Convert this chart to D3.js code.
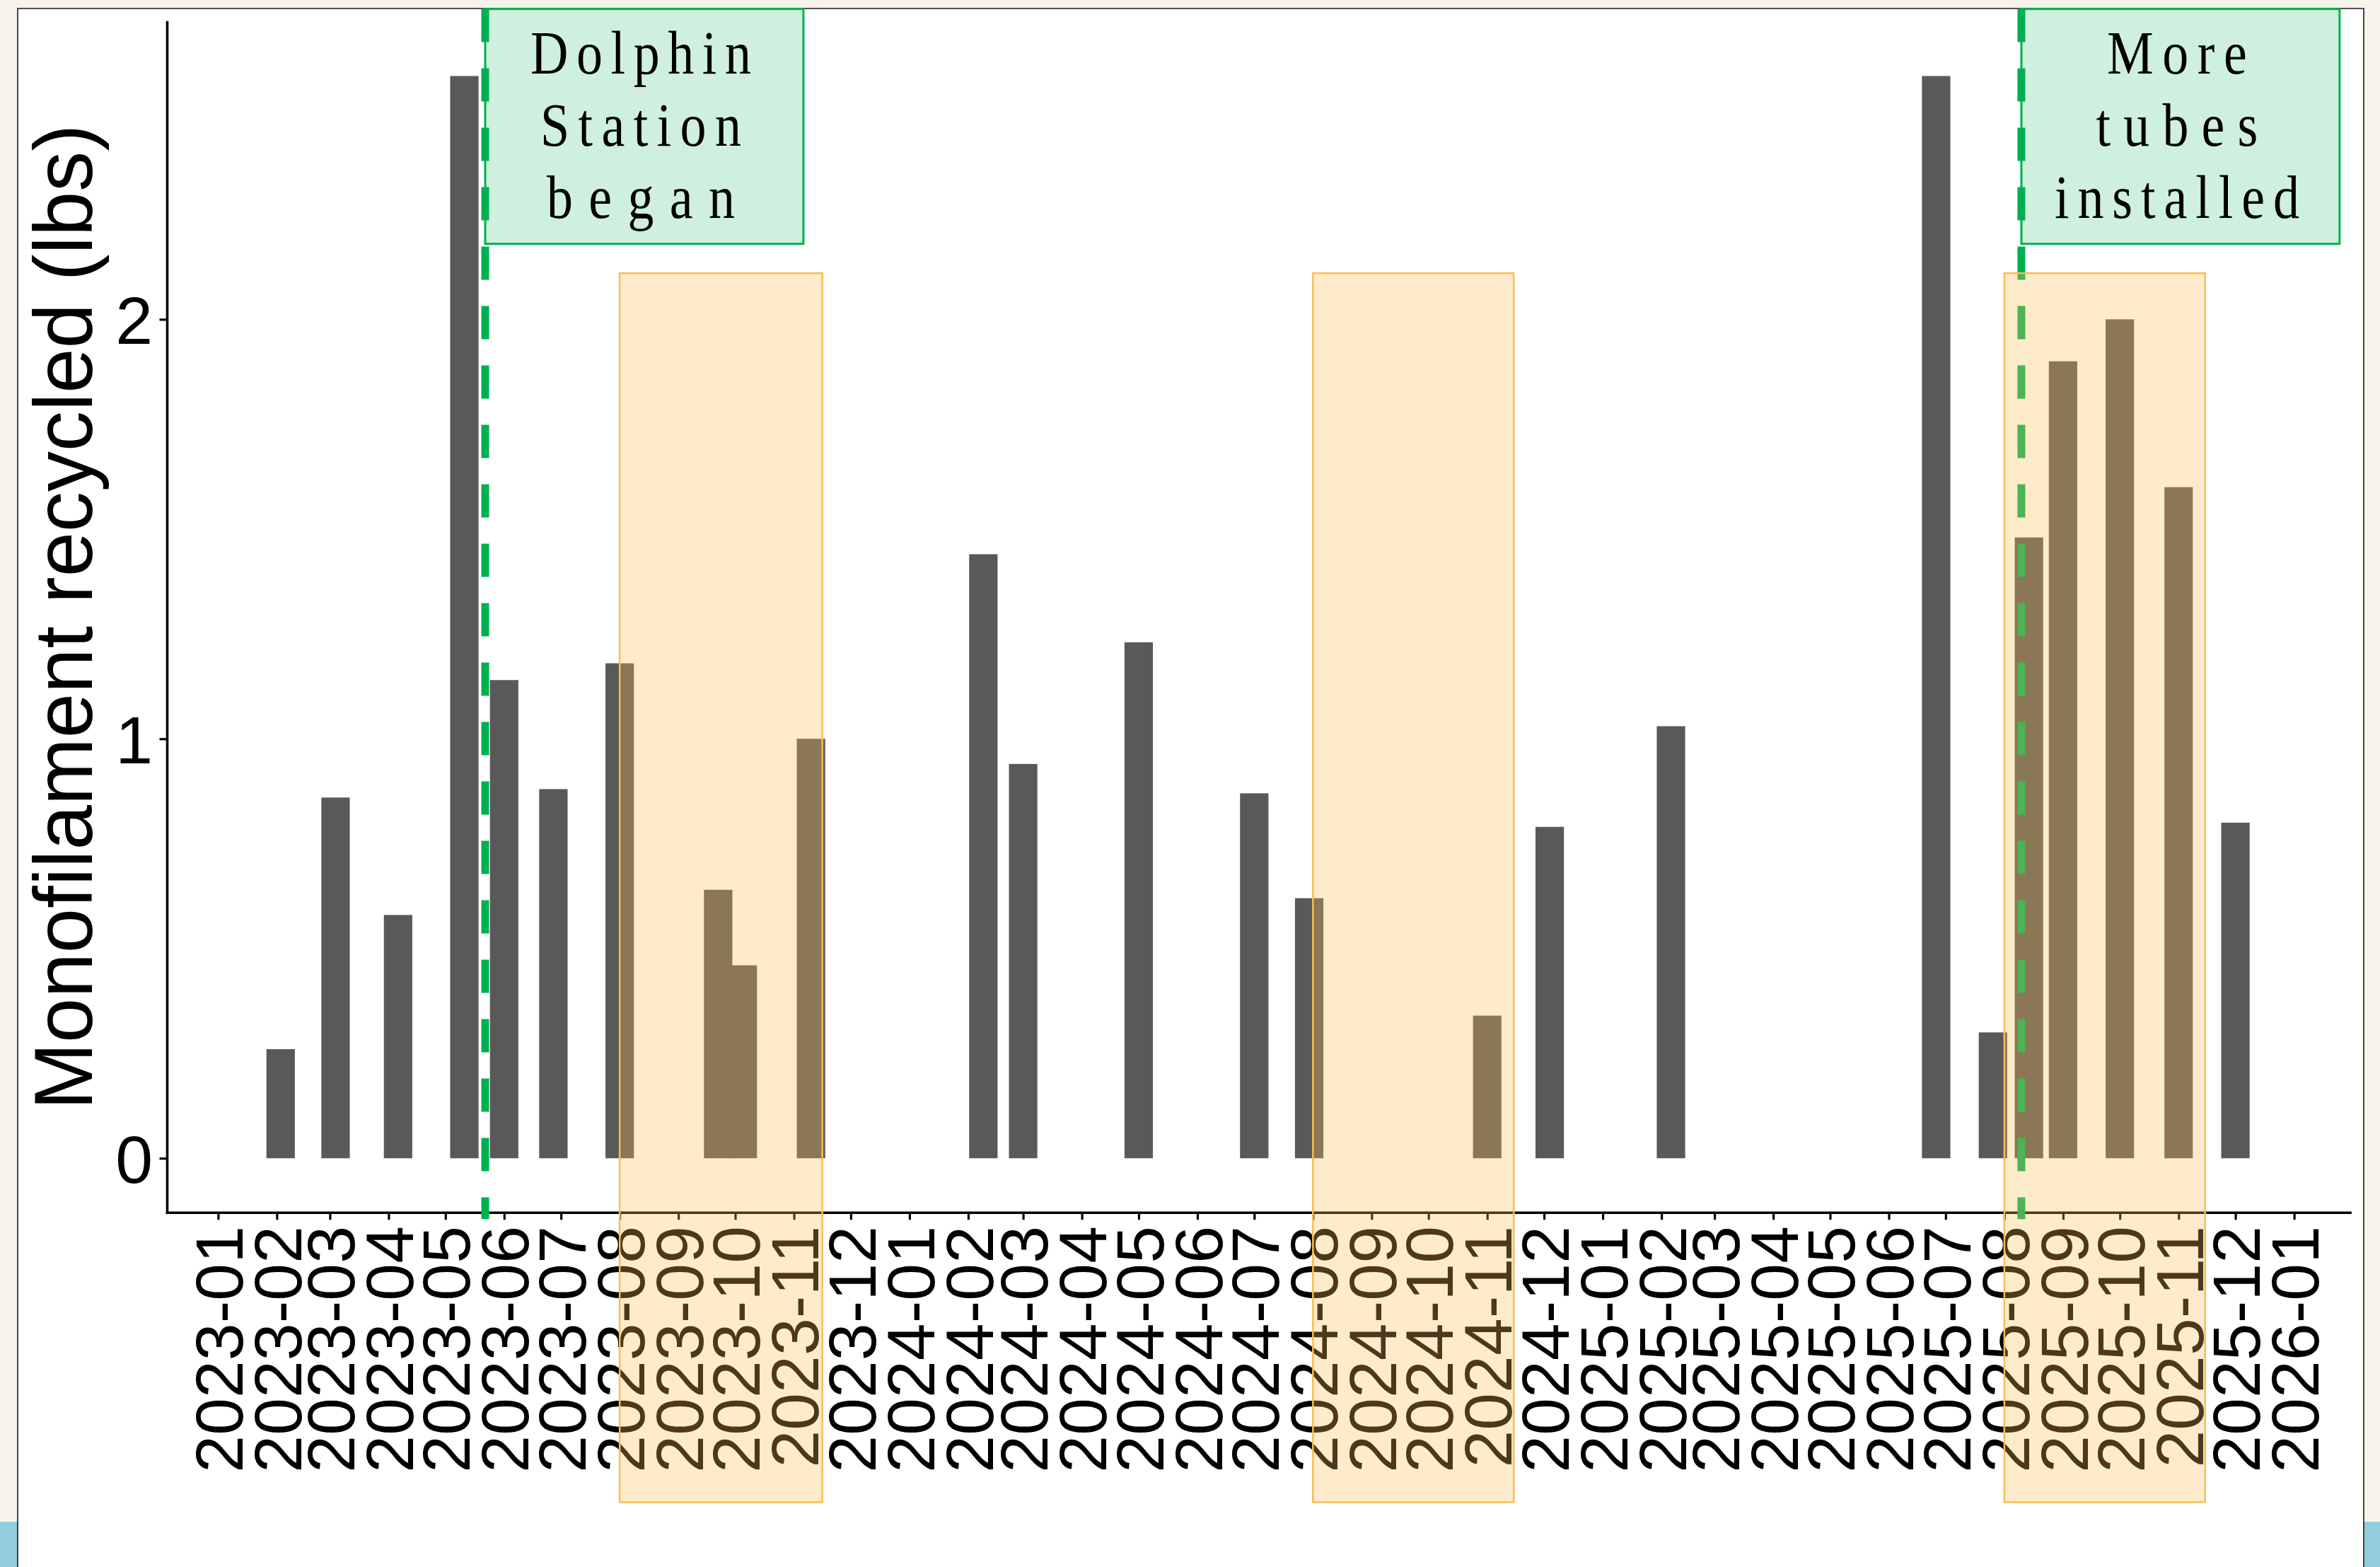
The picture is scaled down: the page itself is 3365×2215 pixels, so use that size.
<!DOCTYPE html>
<html><head><meta charset="utf-8">
<script src="https://cdn.jsdelivr.net/npm/d3@7"></script>
<style>html,body{margin:0;padding:0;background:#F7F3E8;overflow:hidden}svg{display:block}</style>
</head><body>
<svg id="chart" width="3365" height="2215"></svg>
<script>
// ---------- data ----------
const monthTicks = ["2023-01","2023-02","2023-03","2023-04","2023-05","2023-06","2023-07","2023-08","2023-09","2023-10","2023-11","2023-12",
  "2024-01","2024-02","2024-03","2024-04","2024-05","2024-06","2024-07","2024-08","2024-09","2024-10","2024-11","2024-12",
  "2025-01","2025-02","2025-03","2025-04","2025-05","2025-06","2025-07","2025-08","2025-09","2025-10","2025-11","2025-12","2026-01"];
const barDates = ["2023-02-03","2023-03-04","2023-04-06","2023-05-11","2023-06-01","2023-06-27","2023-08-01","2023-09-22","2023-10-05","2023-11-10",
  "2024-02-09","2024-03-01","2024-05-01","2024-07-01","2024-07-30","2024-11-01","2024-12-04",
  "2025-02-06","2025-06-26","2025-07-26","2025-08-14","2025-09-01","2025-10-01","2025-11-01","2025-12-01"];
const barValues = [0.26,0.86,0.58,2.58,1.14,0.88,1.18,0.64,0.46,1.00,
  1.44,0.94,1.23,0.87,0.62,0.34,0.79,
  1.03,2.58,0.30,1.48,1.90,2.00,1.60,0.80];
const yTicks = [0,1,2];
const yTitle = "Monofilament recycled (lbs)";
const seasonStarts = ["2023-08-01","2024-08-01","2025-08-01"];
const seasonEnds   = ["2023-11-16","2024-11-15","2025-11-15"];
const seasonValueRange = [-0.82, 2.11];
const eventDates = ["2023-05-22","2025-08-10"];
const eventLabels = [["Dolphin","Station","began"],["More","tubes","installed"]];
const eventLineRange = [-0.145, 2.74];
const eventBoxRange = [2.18, 2.74];

// ---------- layout / style ----------
const W = 3365, H = 2215;
const plot = {left:236, right:3322.5, top:31, bottom:1713.7};
const X_PAD_DAYS = [27.03, 29.46];
const BAR_DAYS = 15;
const BOX_DAYS = 168;
const boxLineLengths = [[312,284,266],[198,229,346]];
const GLYPH_SQUEEZE = 0.86;
const DAY = 864e5;

const parseM = d3.utcParse("%Y-%m");
const parseD = d3.utcParse("%Y-%m-%d");
const tickDates = monthTicks.map(parseM);
const bars = barDates.map((d,i)=>({date:parseD(d), value:barValues[i]}));

const x = d3.scaleUtc()
  .domain([new Date(tickDates[0].getTime()-X_PAD_DAYS[0]*DAY), new Date(tickDates[tickDates.length-1].getTime()+X_PAD_DAYS[1]*DAY)])
  .range([plot.left, plot.right]);
const y = d3.scaleLinear().domain([-0.129, 2.709]).range([plot.bottom, plot.top]);

const svg = d3.select("#chart");

// page background
svg.append("rect").attr("width",W).attr("height",H).attr("fill","#F7F3E8");
svg.append("rect").attr("x",0).attr("y",2151).attr("width",25).attr("height",H-2151).attr("fill","#92CDDC");
svg.append("rect").attr("x",3342).attr("y",2151).attr("width",W-3342).attr("height",H-2151).attr("fill","#92CDDC");
svg.append("rect").attr("x",25).attr("y",12).attr("width",3317).attr("height",H-12).attr("fill","#ffffff");
svg.append("path").attr("d",`M25,${H}V12H3342V${H}`).attr("fill","none").attr("stroke","#1a1a1a").attr("stroke-width",1.6);

// bars
const halfBar = BAR_DAYS/2*DAY;
svg.append("g").selectAll("rect").data(bars).join("rect")
  .attr("x", d=>x(new Date(d.date.getTime()-halfBar)))
  .attr("width", d=>x(new Date(d.date.getTime()+halfBar))-x(new Date(d.date.getTime()-halfBar)))
  .attr("y", d=>y(d.value))
  .attr("height", d=>y(0)-y(d.value))
  .attr("fill","#595959");

// axes
const fontSans = "'Liberation Sans', Arial, Helvetica, sans-serif";
const xAxis = svg.append("g").attr("transform",`translate(0,${plot.bottom})`)
  .call(d3.axisBottom(x).tickValues(tickDates).tickFormat(d3.utcFormat("%Y-%m")).tickSize(10.5).tickSizeOuter(0));
xAxis.select(".domain").attr("stroke","#000").attr("stroke-width",3.6).attr("stroke-linecap","square");
xAxis.selectAll(".tick line").attr("stroke","#000").attr("stroke-width",3.2);
xAxis.selectAll(".tick text")
  .attr("transform","rotate(-90)")
  .attr("x",-19.3).attr("y",0).attr("dy","0.36em")
  .attr("text-anchor","end")
  .attr("fill","#000")
  .style("font-family",fontSans).style("font-size","95px");

const yAxis = svg.append("g").attr("transform",`translate(${plot.left},0)`)
  .call(d3.axisLeft(y).tickValues(yTicks).tickFormat(d3.format("d")).tickSize(10.5).tickSizeOuter(0));
yAxis.select(".domain").attr("stroke","#000").attr("stroke-width",3.6).attr("stroke-linecap","square");
yAxis.selectAll(".tick line").attr("stroke","#000").attr("stroke-width",3.2);
yAxis.selectAll(".tick text")
  .attr("x",-20).attr("dy","0.36em")
  .attr("text-anchor","end").attr("fill","#000")
  .style("font-family",fontSans).style("font-size","95px");

// y title
svg.append("text")
  .attr("transform",`translate(130,${(plot.top+plot.bottom)/2}) rotate(-90)`)
  .attr("text-anchor","middle")
  .attr("textLength",1393).attr("lengthAdjust","spacingAndGlyphs")
  .style("font-family",fontSans).style("font-size","116px").attr("fill","#000")
  .text(yTitle);

// event lines and boxes
const green = "#00B050";
eventDates.forEach((ds,i)=>{
  const d = parseD(ds);
  const xe = x(d);
  const xr = x(new Date(d.getTime()+BOX_DAYS*DAY));
  const bt = y(eventBoxRange[1]), bb = y(eventBoxRange[0]);
  svg.append("rect").attr("x",xe).attr("y",bt).attr("width",xr-xe).attr("height",bb-bt)
    .attr("fill",green).attr("fill-opacity",0.19).attr("stroke",green).attr("stroke-width",3);
  svg.append("line").attr("x1",xe).attr("x2",xe)
    .attr("y1",y(eventLineRange[1])).attr("y2",y(eventLineRange[0]))
    .attr("stroke",green).attr("stroke-width",11).attr("stroke-dasharray","47,37");
  const cx = (xe+xr)/2 - 5;
  eventLabels[i].forEach((t,j)=>{
    svg.append("text")
      .attr("transform",`translate(${cx},${bt+91+j*102}) scale(${GLYPH_SQUEEZE},1)`)
      .attr("text-anchor","middle")
      .attr("textLength",boxLineLengths[i][j]/GLYPH_SQUEEZE).attr("lengthAdjust","spacing")
      .style("font-family","'Liberation Serif','Times New Roman',serif").style("font-size","86px")
      .attr("fill","#000").text(t);
  });
});

// seasonal shaded rectangles (drawn on top)
seasonStarts.forEach((s,i)=>{
  const x0 = x(parseD(s)), x1 = x(parseD(seasonEnds[i]));
  const y0 = y(seasonValueRange[1]), y1 = y(seasonValueRange[0]);
  svg.append("rect").attr("x",x0).attr("y",y0).attr("width",x1-x0).attr("height",y1-y0)
    .attr("fill","rgb(252,188,85)").attr("fill-opacity",0.3)
    .attr("stroke","#FBBD52").attr("stroke-width",2.5);
});
</script>
</body></html>
